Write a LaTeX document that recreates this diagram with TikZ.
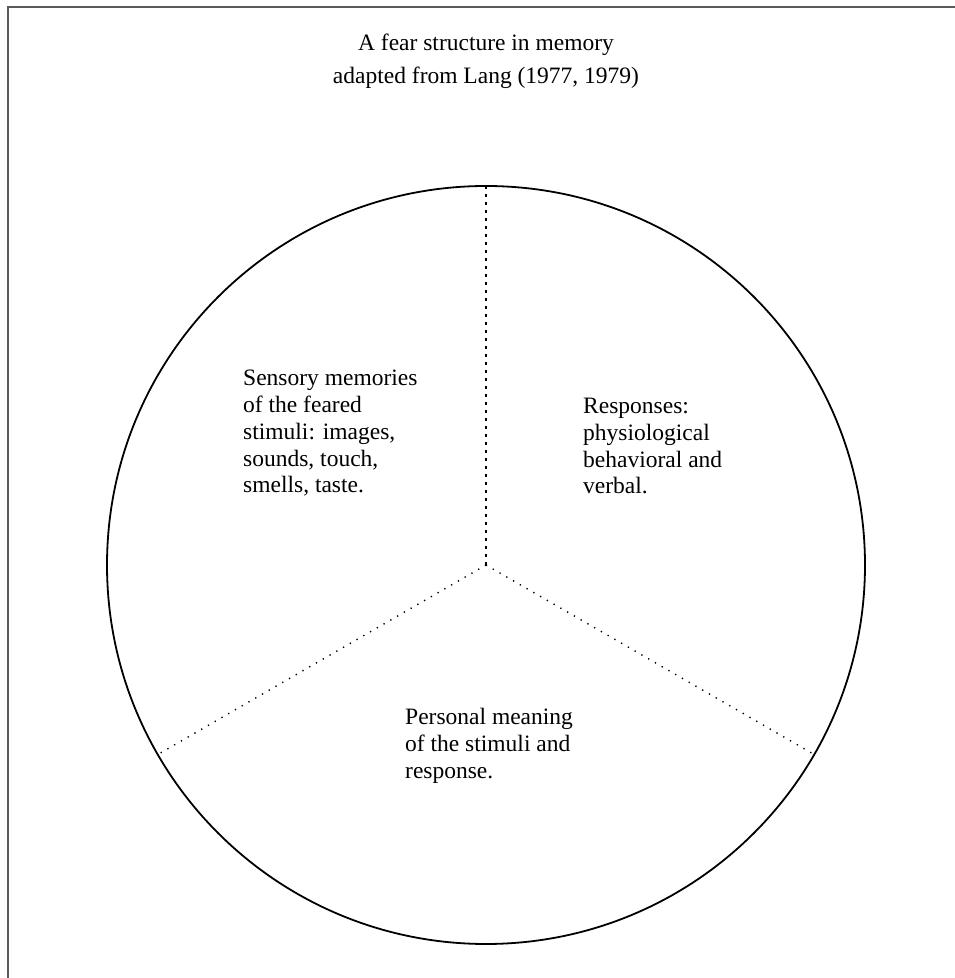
\documentclass[tikz,border=0pt]{standalone}
\usepackage{fontspec}
\setmainfont{Liberation Serif}
\newcommand{\bodysize}{\fontsize{23.5}{26.8}\selectfont}

\begin{document}
\begin{tikzpicture}[x=1pt,y=1pt,
   frameline/.style={draw=black!65,line width=2pt},
   rim/.style={draw,line width=1.8pt},
   spoke/.style={line width=1.4pt,dash pattern=on 1.3pt off 6.5pt},
   upspoke/.style={line width=1.4pt,dash pattern=on 3pt off 5pt},
   txt/.style={anchor=north west,align=left,inner sep=0pt,font=\bodysize}]
   \useasboundingbox (0,0) rectangle (955,978);
   \draw[frameline] (8,0) -- (8,971) -- (955,971);
   \node[anchor=north,align=center,inner sep=0pt,font=\fontsize{23.5}{33}\selectfont] (title) at (486,944)
      {A fear structure in memory\\adapted from Lang (1977, 1979)};
   \coordinate (c) at (486,413);
   \draw[rim] (c) circle(379);
   \path (c) ++(90:379) coordinate (top);
   \path (c) ++(210:379) coordinate (left);
   \path (c) ++(330:379) coordinate (right);
   \draw[upspoke] (c) -- (top);
   \draw[spoke] (c) -- (left);
   \draw[spoke] (c) -- (right);
   \node[txt] (sensory) at (243,608)
      {Sensory memories\\of the feared\\stimuli: images,\\sounds, touch,\\smells, taste.};
   \node[txt] (resp) at (583,580)
      {Responses:\\physiological\\behavioral and\\verbal.};
   \node[txt] (meaning) at (405,270)
      {Personal meaning\\of the stimuli and\\response.};
\end{tikzpicture}
\end{document}
